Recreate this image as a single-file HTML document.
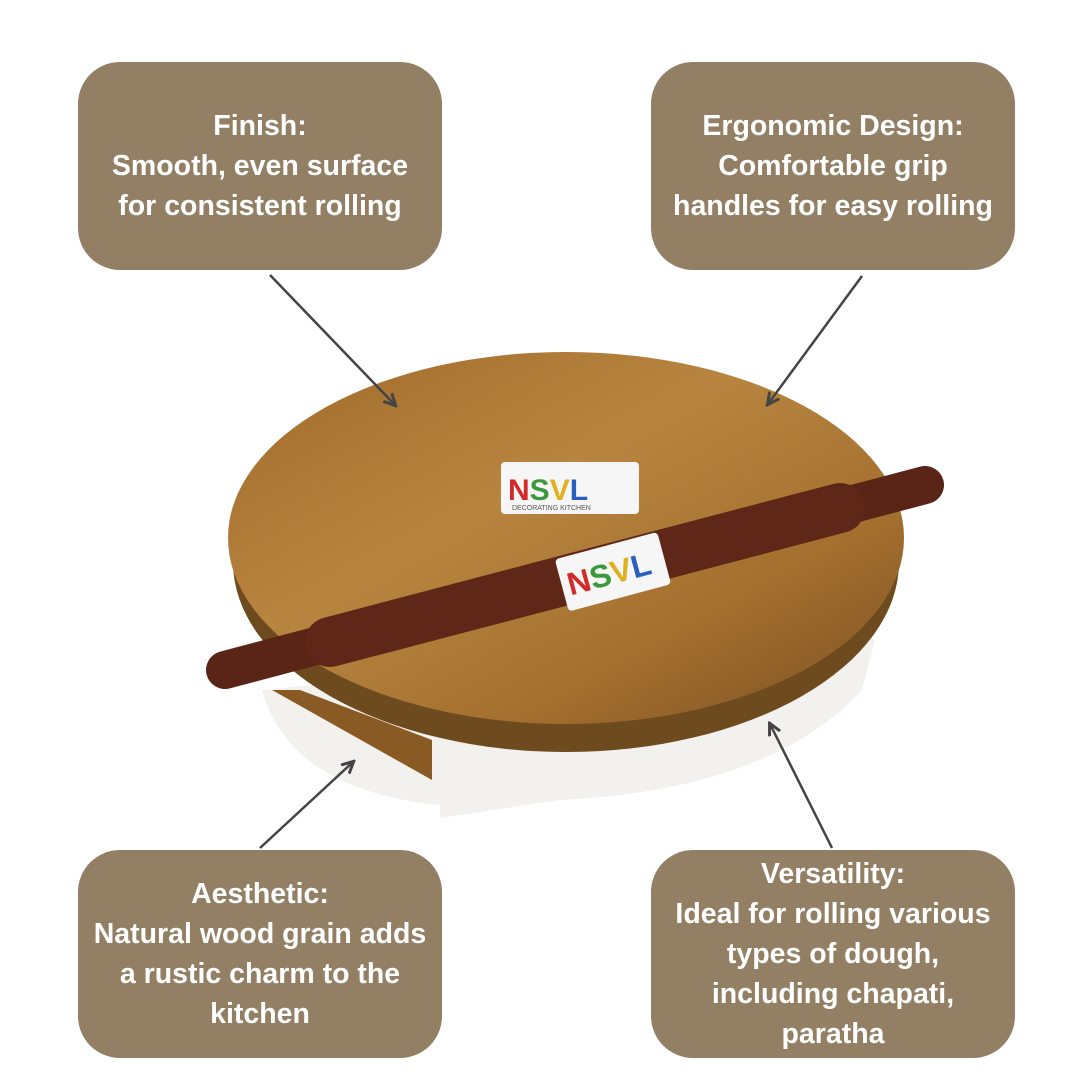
<!DOCTYPE html>
<html><head><meta charset="utf-8"><style>
body{margin:0;background:#fff;width:1080px;height:1080px;overflow:hidden;position:relative;font-family:"Liberation Sans",sans-serif}
.b{position:absolute;width:364px;height:208px;background:#927f64;border-radius:42px;color:#fff;font-weight:bold;font-size:28.5px;line-height:40px;text-align:center;display:flex;align-items:center;justify-content:center;box-sizing:border-box;padding:0 4px;white-space:nowrap}
svg{position:absolute;left:0;top:0}
</style></head><body>
<svg width="1080" height="1080">
<defs>
<linearGradient id="w" x1="0" y1="0" x2="1" y2="1"><stop offset="0" stop-color="#a06a2a"/><stop offset=".4" stop-color="#b88540"/><stop offset=".7" stop-color="#a5702f"/><stop offset="1" stop-color="#7a4f22"/></linearGradient>
<marker id="a" markerWidth="14" markerHeight="14" refX="11" refY="7" orient="auto" markerUnits="userSpaceOnUse"><path d="M0,1 L12,7 L0,13" fill="none" stroke="#444" stroke-width="3"/></marker>
</defs>
<path d="M262,690 Q290,790 440,805 L440,818 L560,800 Q770,790 862,690 L875,640 L860,630 Z" fill="#f2f1ee"/>
<ellipse cx="566" cy="562" rx="333" ry="190" fill="#6e4a1f"/>
<path d="M272,690 L432,780 L432,740 L300,690Z" fill="#8a5a24"/>
<ellipse cx="566" cy="538" rx="338" ry="186" fill="url(#w)"/>
<rect x="501" y="462" width="138" height="52" rx="4" fill="#f6f6f6"/>
<text x="508" y="500" font-family="Liberation Sans" font-weight="bold" font-size="30" fill="#d42a2a">N<tspan fill="#3a9a3a">S</tspan><tspan fill="#e0b020">V</tspan><tspan fill="#2a5fc0">L</tspan></text>
<text x="512" y="510" font-family="Liberation Sans" font-size="7" fill="#555">DECORATING KITCHEN</text>
<line x1="225" y1="670" x2="925" y2="485" stroke="#5a2416" stroke-width="38" stroke-linecap="round"/>
<line x1="330" y1="642" x2="840" y2="508" stroke="#5e2718" stroke-width="50" stroke-linecap="round"/>
<g transform="rotate(-15 612 572)"><rect x="560" y="545" width="106" height="54" rx="4" fill="#f6f6f6"/>
<text x="566" y="584" font-family="Liberation Sans" font-weight="bold" font-size="32" fill="#d42a2a">N<tspan fill="#3a9a3a">S</tspan><tspan fill="#e0b020">V</tspan><tspan fill="#2a5fc0">L</tspan></text></g>
<g stroke="#444" stroke-width="2.5" marker-end="url(#a)">
<line x1="270" y1="275" x2="395" y2="405"/>
<line x1="862" y1="276" x2="768" y2="404"/>
<line x1="260" y1="848" x2="353" y2="762"/>
<line x1="832" y1="848" x2="770" y2="724"/>
</g>
</svg>
<div class="b" style="left:78px;top:62px">Finish:<br>Smooth, even surface<br>for consistent rolling</div>
<div class="b" style="left:651px;top:62px">Ergonomic Design:<br>Comfortable grip<br>handles for easy rolling</div>
<div class="b" style="left:78px;top:850px">Aesthetic:<br>Natural wood grain adds<br>a rustic charm to the<br>kitchen</div>
<div class="b" style="left:651px;top:850px">Versatility:<br>Ideal for rolling various<br>types of dough,<br>including chapati,<br>paratha</div>
</body></html>
